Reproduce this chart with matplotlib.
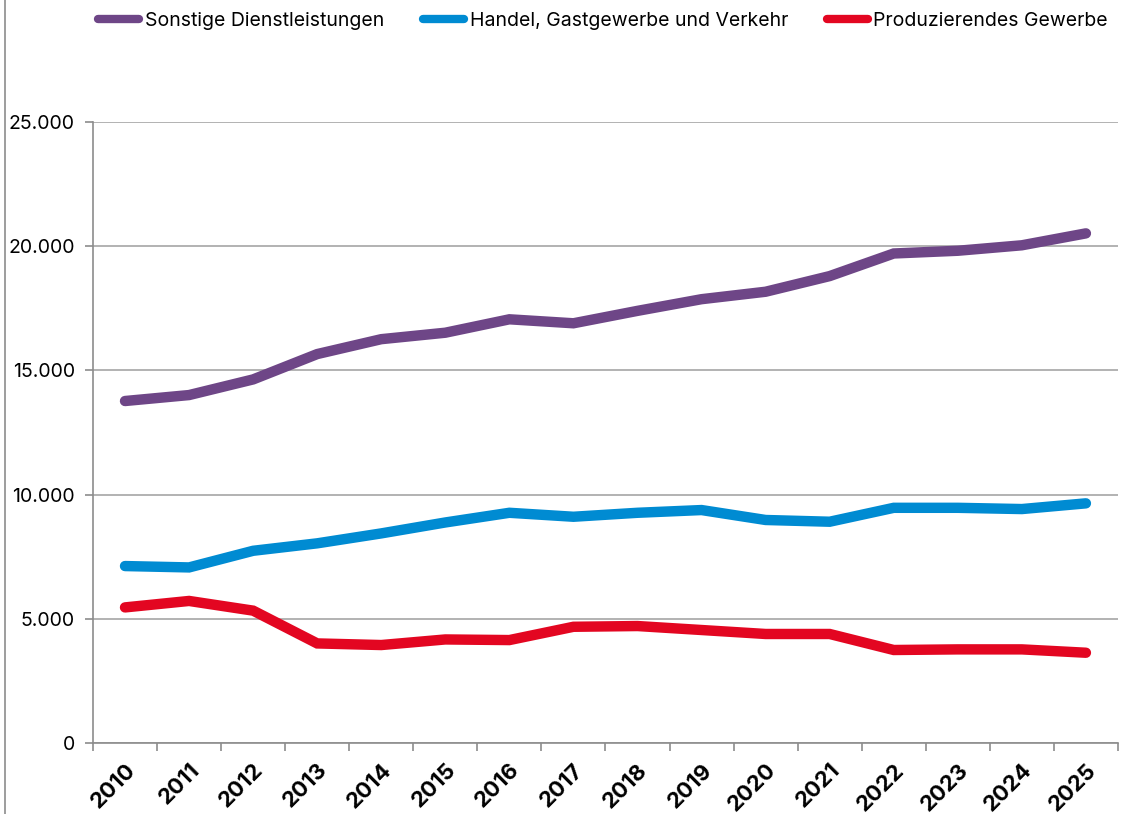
import numpy as np
import matplotlib
matplotlib.use("Agg")
import matplotlib.pyplot as plt
from matplotlib.ticker import FuncFormatter, FixedLocator
from matplotlib.lines import Line2D

plt.rcParams['font.family'] = ['Inter', 'DejaVu Sans']

years = [str(y) for y in range(2010, 2026)]

sonstige = [13770, 14010, 14640, 15660, 16260, 16520, 17060, 16900,
            17400, 17870, 18170, 18800, 19710, 19820, 20040, 20520]
handel = [7125, 7070, 7740, 8040, 8440, 8880, 9270, 9110,
          9270, 9380, 8980, 8910, 9470, 9470, 9420, 9650]
produz = [5460, 5720, 5330, 4010, 3945, 4170, 4145, 4680,
          4710, 4550, 4390, 4390, 3745, 3770, 3770, 3635]

series_names = ["Sonstige Dienstleistungen", "Handel, Gastgewerbe und Verkehr",
                "Produzierendes Gewerbe"]
colors = ["#6E4687", "#008BD2", "#E30621"]

fig = plt.figure(figsize=(11.23, 8.14), dpi=100)
ax = fig.add_axes([0.0828, 0.0872, 0.9127, 0.7628])

x = np.arange(len(years))
for vals, name, c in zip([sonstige, handel, produz], series_names, colors):
    ax.plot(x, vals, color=c, lw=7.5, solid_capstyle='round',
            solid_joinstyle='miter', label=name)

ax.set_xlim(-0.5, len(years) - 0.5)
ax.set_ylim(0, 25000)
ax.set_yticks(np.arange(0, 25001, 5000))
ax.yaxis.set_major_formatter(FuncFormatter(lambda v, p: f"{int(v):,}".replace(",", ".")))
ax.grid(axis='y', color='#A6A6A6', lw=1.2)
ax.set_axisbelow(True)

# category boundaries get the tick marks, labels sit in the middle
ax.set_xticks(x)
ax.set_xticklabels(years, rotation=45, ha='right', rotation_mode='anchor',
                   fontsize=16, fontweight='bold')
ax.xaxis.set_minor_locator(FixedLocator(np.arange(-0.5, len(years), 1)))
ax.tick_params(axis='x', which='major', length=0, pad=12)
ax.tick_params(axis='x', which='minor', length=6, color='#8C8C8C', width=1.2)
ax.tick_params(axis='y', length=6, color='#8C8C8C', width=1.2, labelsize=14, pad=7)

for s in ['top', 'right']:
    ax.spines[s].set_visible(False)
for s in ['left', 'bottom']:
    ax.spines[s].set_color('#8C8C8C')
    ax.spines[s].set_linewidth(1.2)

leg = fig.legend(loc='upper center', bbox_to_anchor=(0.537, 1.0), ncol=3, frameon=False,
                 fontsize=14, handlelength=2.1, handletextpad=0.3, columnspacing=2.0,
                 borderaxespad=0.2)
for h in leg.get_lines():
    h.set_linewidth(6)

# thin frame line on the left edge of the image
fig.add_artist(Line2D([0.0045, 0.0045], [0, 1], color='#8C8C8C', lw=1.2))

fig.savefig("out.png", dpi=100)
